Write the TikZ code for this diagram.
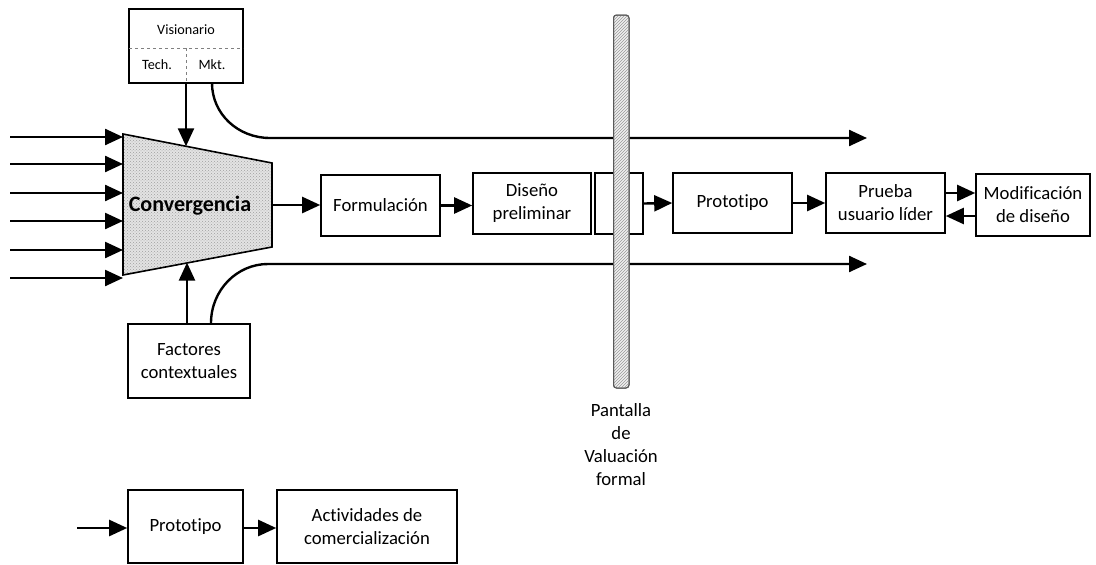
\documentclass[tikz,border=0pt]{standalone}
\usepackage{fontspec}
\setmainfont[Ligatures=NoCommon]{Carlito}
\usetikzlibrary{arrows.meta,patterns,calc}
\begin{document}
\begin{tikzpicture}[x=1pt,y=-1pt,
  box/.style={draw, line width=1.6pt, inner sep=0pt, align=center,
    font=\fontsize{18.7}{23}\selectfont},
  flow/.style={line width=2.4pt, -{Triangle[length=18pt,width=16pt]}},
  divider/.style={gray, dashed, line width=0.7pt},
  smalltext/.style={font=\fontsize{14.2}{17}\selectfont, inner sep=0pt}]
\useasboundingbox (0,0) rectangle (1096,565);

% Convergence funnel
\coordinate (tl) at (123,134);
\coordinate (tr) at (272,163);
\coordinate (br) at (272,247);
\coordinate (bl) at (123,275);
\fill[gray!22] (tl) -- (tr) -- (br) -- (bl) -- cycle;
\fill[pattern=crosshatch dots, pattern color=gray!75] (tl) -- (tr) -- (br) -- (bl) -- cycle;
\draw[line width=1.6pt, line join=miter] (tl) -- (tr) -- (br) -- (bl) -- cycle;
\node[font=\fontsize{22}{26}\selectfont\bfseries, inner sep=0pt] (conv) at (190,206) {Convergencia};
\coordinate (convout) at (272,205);
\coordinate (convtop) at (186,146.3);
\coordinate (convbot) at (187,262.6);

% Incoming inputs on the left
\foreach \yy [count=\i] in {137,164,193,221,250,278} {
  \coordinate (in\i) at (10,\yy);
  \coordinate (inend\i) at (123,\yy);
  \draw[flow] (in\i) -- (inend\i);
}

% Visionary box
\node[box, minimum width=114pt, minimum height=74pt] (vis) at (186,46) {};
\draw[divider] (129,48) -- (243,48);
\draw[divider] (186,48) -- (vis.south);
\node[smalltext] (vistitle) at (186,30) {Visionario};
\node[smalltext] (tech) at (157,65) {Tech.};
\node[smalltext] (mkt) at (212,65) {Mkt.};
\draw[flow] (vis.south) -- (convtop);

% Contextual factors
\node[box, minimum width=122pt, minimum height=74pt] (fac) at (189,361) {Factores\\contextuales};
\draw[flow] (fac.north -| convbot) -- (convbot);

% Main chain
\node[box, minimum width=119pt, minimum height=61pt] (form) at (380.5,205.5) {Formulación};
\node[box, minimum width=118pt, minimum height=61pt] (dis) at (532,203.5) {Diseño\\preliminar};
\node[box, minimum width=48pt, minimum height=61pt] (gate) at (619,203.5) {};
\node[box, minimum width=119pt, minimum height=60pt] (proto) at (732.5,203) {Prototipo};
\node[box, minimum width=119pt, minimum height=60pt] (test) at (885.5,203) {Prueba\\usuario líder};
\node[box, minimum width=114pt, minimum height=62pt] (mod) at (1033,205) {Modificación\\de diseño};

\draw[flow] (convout) -- (convout -| form.west);
\draw[flow] (form.east) -- (form.east -| dis.west);
\draw[flow] (gate.east) -- (proto.west);
\draw[flow] (proto.east) -- (test.west);
\draw[flow] (test.east |- 0,193) -- (mod.west |- 0,193);
\draw[flow] (mod.west |- 0,216) -- (test.east |- 0,216);

% Bypass streams above and below
\coordinate (topend) at (867,138);
\coordinate (botend) at (867,264);
\draw[flow] (212,83) .. controls (212,114) and (238,138) .. (270,138) -- (topend);
\draw[flow] (fac.north -| 211,0) .. controls (211,290) and (237,264) .. (268,264) -- (botend);

% Formal evaluation screen
\draw[gray!70!black, line width=1pt, rounded corners=3pt, fill=gray!12]
  (613.5,15) rectangle (629,388);
\fill[pattern=north east lines, pattern color=gray!80, rounded corners=3pt]
  (614,15.5) rectangle (628.5,387.5);
\draw[gray!70!black, line width=1pt, rounded corners=3pt]
  (613.5,15) rectangle (629,388);
\node[align=center, inner sep=0pt, font=\fontsize{18.7}{23}\selectfont] (screenlabel) at (621,445) {Pantalla\\de\\Valuación\\formal};

% Commercialisation stage
\node[box, minimum width=115pt, minimum height=73pt] (proto2) at (185.5,526.5) {Prototipo};
\node[box, minimum width=180pt, minimum height=73pt] (act) at (367,526.5) {Actividades de\\comercialización};
\coordinate (feed) at (77,528);
\draw[flow] (feed) -- (feed -| proto2.west);
\draw[flow] (proto2.east |- feed) -- (act.west |- feed);
\end{tikzpicture}
\end{document}
